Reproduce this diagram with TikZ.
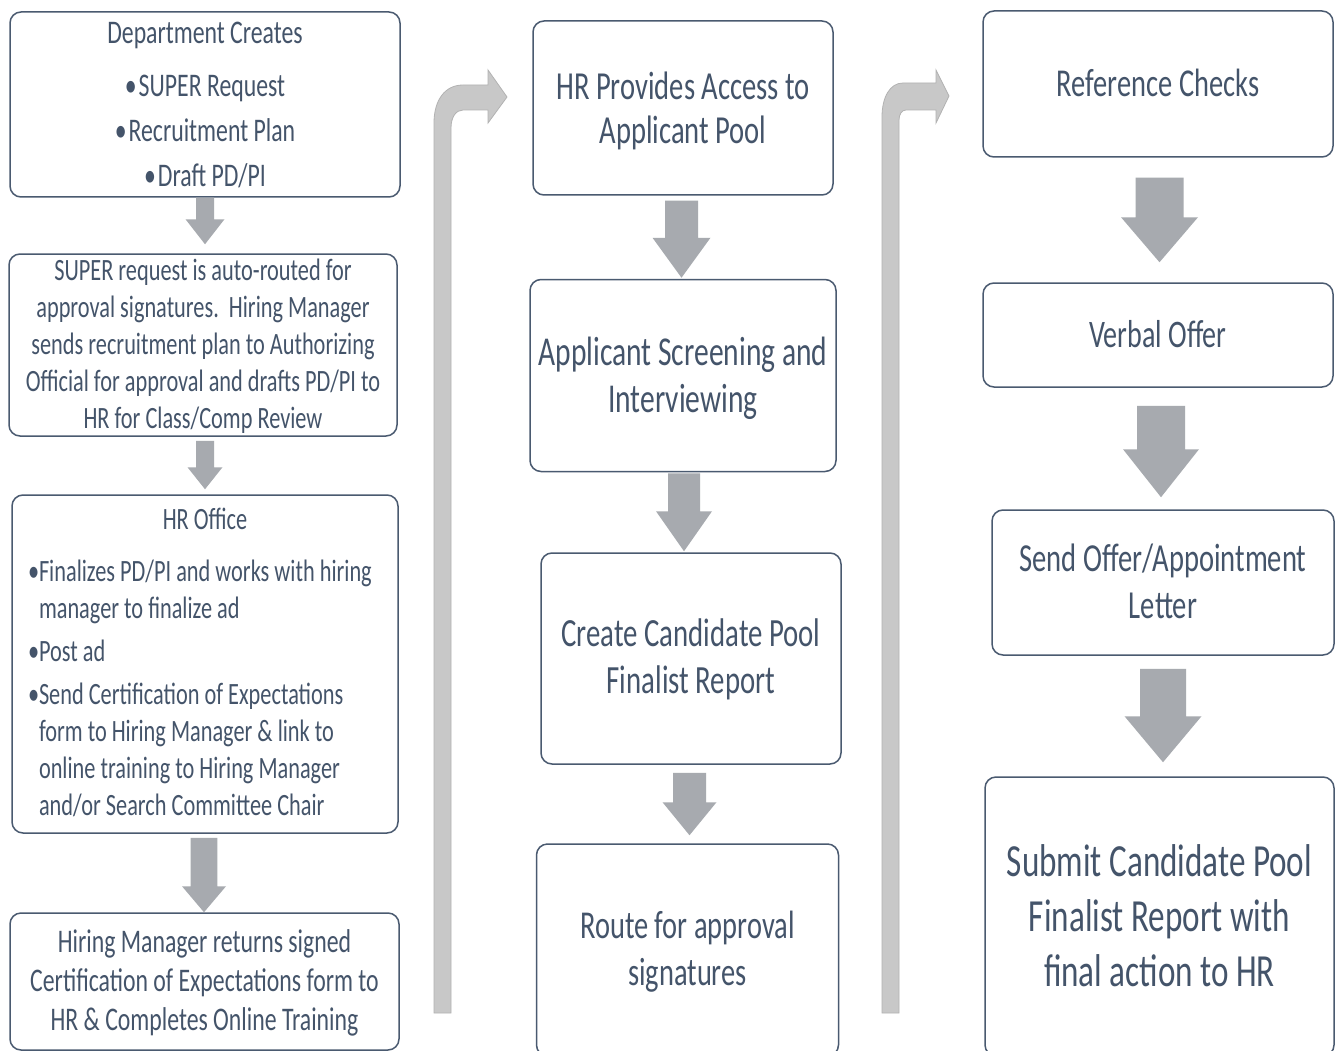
\documentclass[tikz,border=0pt]{standalone}
\usepackage{fontspec}
\setmainfont{Carlito}[FakeStretch=0.72]
\usetikzlibrary{calc}
\definecolor{txt}{HTML}{44546A}
\definecolor{boxc}{HTML}{4A5A70}
\definecolor{arrowgray}{HTML}{A7AAAF}
\definecolor{bentfill}{HTML}{C8C8C8}
\definecolor{bentline}{HTML}{B2B2B2}
\newcommand\bul{\makebox[11pt][l]{\textbullet}}
\newcommand\ind{\hspace*{11pt}}
% #1 top node, #2 bottom node, #3 x offset, #4 top gap, #5 tip gap, #6 shaft half width, #7 head half width, #8 head length
\newcommand\blockarr[8]{%
  \fill[arrowgray] let \p1=(#1.south), \p2=(#2.north) in
  (\x1+#3-#6, \y1-#4) -- (\x1+#3+#6, \y1-#4) -- (\x1+#3+#6, \y2+#5+#8)
  -- (\x1+#3+#7, \y2+#5+#8) -- (\x1+#3, \y2+#5) -- (\x1+#3-#7, \y2+#5+#8)
  -- (\x1+#3-#6, \y2+#5+#8) -- cycle;}
\begin{document}
\begin{tikzpicture}[x=1pt,y=-1pt,
  box/.style={draw=boxc, line width=1.5pt, rounded corners=11pt, inner sep=0pt},
  lbl/.style={text=txt, align=center, inner sep=0pt},
  bent/.style={fill=bentfill, draw=bentline, line width=0.8pt}]
\useasboundingbox (0,0) rectangle (1335,1051);
\fill[white] (0,0) rectangle (1335,1051);

% ---------- column 1 ----------
\node[box, minimum width=390pt, minimum height=185pt] (a1) at (205,104.5) {};
\node[lbl, font=\fontsize{33}{45}\selectfont] (a1t) at (a1.center)
 {Department Creates\\[8pt]\textbullet\hspace{2pt}SUPER Request\\\textbullet\hspace{2pt}Recruitment Plan\\\textbullet\hspace{2pt}Draft PD/PI};
\node[box, minimum width=388pt, minimum height=182pt] (a2) at (203,345) {};
\node[lbl, font=\fontsize{31}{37}\selectfont] (a2t) at ([yshift=-1.5pt]a2.center)
 {SUPER request is auto-routed for\\approval signatures.\ \ Hiring Manager\\sends recruitment plan to Authorizing\\Official for approval and drafts PD/PI to\\HR for Class/Comp Review};
\node[box, minimum width=386pt, minimum height=338pt] (a3) at (205,664) {};
\node[lbl, align=left, font=\fontsize{31}{37}\selectfont] (a3t) at ([yshift=1.5pt]a3.center)
 {\makebox[354pt][c]{HR Office}\\[15pt]
  \bul Finalizes PD/PI and works with hiring\\\ind manager to finalize ad\\[6pt]
  \bul Post ad\\[6pt]
  \bul Send Certification of Expectations\\\ind form to Hiring Manager \& link to\\\ind online training to Hiring Manager\\\ind and/or Search Committee Chair};
\node[box, minimum width=389pt, minimum height=137pt] (a4) at (204.5,981.5) {};
\node[lbl, font=\fontsize{33}{39}\selectfont] (a4t) at ([yshift=-1.5pt]a4.center)
 {Hiring Manager returns signed\\Certification of Expectations form to\\HR \& Completes Online Training};

% ---------- column 2 ----------
\node[box, minimum width=300pt, minimum height=174pt] (b1) at (683,108) {};
\node[lbl, font=\fontsize{39.7}{44}\selectfont] (b1t) at ([yshift=-3pt]b1.center)
 {HR Provides Access to\\Applicant Pool};
\node[box, minimum width=306pt, minimum height=192pt] (b2) at (683,375.5) {};
\node[lbl, font=\fontsize{41}{47}\selectfont] (b2t) at ([yshift=-3pt]b2.center)
 {Applicant Screening and\\Interviewing};
\node[box, minimum width=300pt, minimum height=211pt] (b3) at (691,658.5) {};
\node[lbl, font=\fontsize{40}{47}\selectfont] (b3t) at ([yshift=-1pt]b3.center)
 {Create Candidate Pool\\Finalist Report};
\node[box, minimum width=302pt, minimum height=212pt] (b4) at (687.5,950) {};
\node[lbl, font=\fontsize{39.5}{47}\selectfont] (b4t) at ([yshift=-2pt]b4.center)
 {Route for approval\\signatures};

% ---------- column 3 ----------
\node[box, minimum width=350pt, minimum height=146pt] (c1) at (1158,84) {};
\node[lbl, font=\fontsize{39.5}{47}\selectfont] (c1t) at ([yshift=1pt]c1.center)
 {Reference Checks};
\node[box, minimum width=350pt, minimum height=104pt] (c2) at (1158,335) {};
\node[lbl, font=\fontsize{39}{47}\selectfont] (c2t) at ([yshift=1pt]c2.center)
 {Verbal Offer};
\node[box, minimum width=342pt, minimum height=145pt] (c3) at (1163,582.5) {};
\node[lbl, font=\fontsize{39.7}{47}\selectfont] (c3t) at ([yshift=1.5pt]c3.center)
 {Send Offer/Appointment\\Letter};
\node[box, minimum width=349pt, minimum height=279pt] (c4) at (1159.5,916.5) {};
\node[lbl, font=\fontsize{46}{55}\selectfont] (c4t) at ([yshift=1pt]c4.center)
 {Submit Candidate Pool\\Finalist Report with\\final action to HR};

% ---------- block arrows ----------
\blockarr{a1}{a2}{0pt}{0pt}{9pt}{9pt}{19.5pt}{25pt}
\blockarr{a2}{a3}{2pt}{4pt}{5pt}{9pt}{17.5pt}{22pt}
\blockarr{a3}{a4}{-1pt}{4pt}{0pt}{13.3pt}{22pt}{26pt}
\blockarr{b1}{b2}{-1.5pt}{5pt}{1pt}{16.5pt}{29pt}{40pt}
\blockarr{b2}{b3}{1pt}{1pt}{1pt}{16pt}{28pt}{40pt}
\blockarr{b3}{b4}{-1.5pt}{8pt}{8pt}{16.5pt}{27pt}{33pt}
\blockarr{c1}{c2}{1.5pt}{20pt}{20pt}{24pt}{38.5pt}{45pt}
\blockarr{c2}{c3}{3pt}{18pt}{12pt}{24pt}{38pt}{48pt}
\blockarr{c3}{c4}{0pt}{13pt}{14pt}{23pt}{38.5pt}{46pt}

% ---------- bent arrows ----------
\draw[bent] (434,1013) -- (434,123) .. controls (434,100) and (445,85) .. (463,85)
  -- (488,85) -- (488,70) -- (507,97) -- (488,123) -- (488,110) -- (463,110)
  .. controls (456,110) and (451,117) .. (451,128) -- (451,1013) -- cycle;
\draw[bent] (882,1013) -- (882,117) .. controls (882,97) and (890,83) .. (903,83)
  -- (936,83) -- (936,70) -- (949,96) -- (936,123) -- (936,110) -- (906,110)
  .. controls (902,110) and (899,114) .. (899,120) -- (899,1013) -- cycle;
\end{tikzpicture}
\end{document}
